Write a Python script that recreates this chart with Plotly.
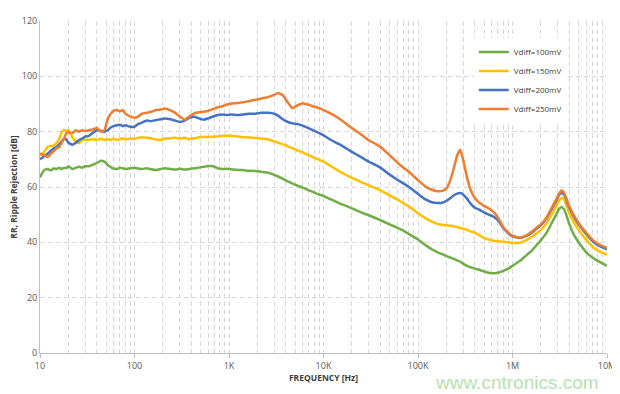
import plotly.graph_objects as go

freq = [
    10, 11, 12, 13, 14, 15, 16, 17, 18, 19,
    20, 22, 24, 26, 28, 30, 33, 36, 40, 44,
    48, 52, 56, 60, 65, 70, 75, 80, 90, 100,
    110, 120, 135, 150, 170, 190, 210, 240, 270, 300,
    340, 380, 430, 480, 540, 600, 680, 760, 850, 950,
    1070, 1200, 1400, 1600, 1900, 2200, 2600, 3000, 3300, 3700,
    4200, 4700, 5300, 6000, 7000, 8000, 9000, 10000, 12000, 15000,
    20000, 25000, 30000, 40000, 50000, 60000, 70000, 80000, 100000, 120000,
    140000, 160000, 180000, 200000, 220000, 240000, 260000, 280000, 300000, 330000,
    360000, 400000, 450000, 500000, 560000, 630000, 700000, 800000, 900000, 1000000,
    1200000, 1400000, 1600000, 1800000, 2000000, 2300000, 2600000, 2900000, 3100000, 3300000,
    3500000, 3700000, 4000000, 4500000, 5000000, 6000000, 7000000, 8000000, 10000000,
]

vdiff_100mV = [
    63.5, 66.0, 66.5, 66.0, 66.7, 66.5, 67.0, 66.5, 67.0, 66.8,
    67.5, 66.5, 67.0, 67.3, 67.0, 67.5, 67.5, 68.0, 68.7, 69.5,
    69.2, 68.0, 67.2, 66.7, 66.5, 67.0, 66.8, 66.5, 66.8, 67.0,
    66.7, 66.5, 66.8, 66.4, 66.1, 66.5, 66.8, 66.5, 66.3, 66.6,
    66.3, 66.5, 66.8, 67.0, 67.3, 67.6, 67.5, 66.8, 66.5, 66.6,
    66.4, 66.2, 66.1, 65.9, 65.8, 65.5, 65.2, 64.4, 63.8, 63.0,
    62.0, 61.2, 60.5, 59.8, 58.8, 58.0, 57.3, 56.8, 55.5, 54.0,
    52.3, 50.8, 49.8, 48.0, 46.5, 45.3, 44.2, 43.0, 41.0, 39.0,
    37.5, 36.5, 35.7, 35.0, 34.5, 34.0, 33.5, 33.0, 32.3, 31.5,
    31.0, 30.5, 30.0, 29.5, 29.0, 28.8, 29.0, 29.7, 30.5, 31.5,
    33.3, 35.3, 37.0, 39.0, 40.8, 43.5, 47.0, 50.0, 52.0, 52.8,
    52.0, 50.0, 46.5, 42.5, 40.0, 36.5, 34.5, 33.3, 31.5,
]

vdiff_150mV = [
    71.5, 72.5, 74.5, 74.8, 75.0, 76.0, 77.5, 80.0, 80.6, 80.3,
    80.6, 78.0, 76.5, 75.9, 77.0, 77.2, 77.0, 77.3, 77.0, 77.5,
    77.0, 77.3, 77.0, 77.5, 77.0, 77.2, 77.6, 77.2, 77.5, 77.4,
    77.8, 78.0, 77.8, 77.6, 77.2, 77.0, 77.5, 77.6, 77.8, 77.5,
    77.8, 77.3, 77.6, 78.0, 78.2, 78.0, 78.2, 78.3, 78.5, 78.5,
    78.5, 78.3, 78.0, 78.0, 77.7, 77.5, 77.2, 76.5, 76.0, 75.5,
    74.7, 74.0, 73.2, 72.5, 71.5, 70.5, 69.8, 69.2, 67.5, 65.5,
    63.3, 61.8, 60.6, 58.8, 57.0, 55.5, 54.2, 53.0, 50.5, 48.7,
    47.5, 46.7, 46.3, 46.2, 46.0, 45.8, 45.5, 45.2, 45.0, 44.5,
    44.0, 43.5, 42.5, 41.5, 41.0, 40.6, 40.4, 40.2, 40.0, 39.8,
    39.8, 40.8, 42.0, 43.3, 44.5, 47.0, 50.0, 53.0, 55.0, 56.0,
    55.5, 53.5, 50.5, 47.0, 44.5, 41.0, 38.5, 37.0, 35.5,
]

vdiff_200mV = [
    70.0, 71.0, 72.0, 73.0, 74.0, 74.5, 75.5, 76.5, 77.5, 77.2,
    76.0, 75.3, 76.0, 77.0, 77.5, 78.2, 78.5, 79.5, 80.6, 80.3,
    80.0, 80.5, 81.5, 82.0, 82.3, 82.5, 82.0, 82.3, 81.8, 81.8,
    82.8, 83.3, 84.0, 83.8, 84.2, 84.5, 84.8, 84.5, 84.0, 83.5,
    84.0, 85.0, 85.4, 84.8, 84.3, 84.8, 85.5, 86.0, 86.2, 86.0,
    86.2, 86.0, 86.2, 86.5, 86.5, 86.8, 86.8, 86.5, 85.8, 84.5,
    83.5, 83.0, 82.8, 82.2, 81.2, 80.3, 79.5, 78.7, 77.0, 75.3,
    72.7, 70.8, 69.2, 67.0, 64.5, 62.7, 61.3, 60.0, 57.5, 55.5,
    54.5, 54.2, 54.3, 55.0, 56.0, 57.0, 57.6, 57.8, 57.3, 55.8,
    54.0, 52.5, 51.7, 50.8, 50.0, 49.3, 48.0, 45.2, 43.3, 42.2,
    41.6, 42.3, 43.5, 45.0, 46.2, 48.8, 52.0, 55.0, 57.0, 57.8,
    57.3, 55.5, 52.5, 49.0, 46.5, 43.0, 40.5, 39.0, 37.5,
]

vdiff_250mV = [
    72.0, 71.5, 70.8, 72.0, 73.0, 74.0, 74.5, 76.0, 77.5, 79.5,
    79.8, 79.5, 80.5, 80.0, 80.5, 80.2, 80.5, 80.8, 81.3, 80.0,
    80.5, 84.5, 86.5, 87.5, 87.8, 87.3, 87.8, 86.5, 85.5, 85.0,
    85.5, 86.5, 86.8, 87.2, 87.8, 88.0, 88.4, 87.7, 86.8, 85.5,
    84.3, 85.5, 86.6, 87.0, 87.2, 87.5, 88.2, 88.8, 89.2, 89.8,
    90.2, 90.3, 90.6, 91.0, 91.5, 92.0, 92.5, 93.3, 94.0, 93.2,
    90.5, 88.5, 89.5, 90.3, 89.7, 89.0, 88.5, 87.8, 86.5, 84.5,
    81.3, 79.0, 77.0, 74.5, 71.5, 69.0, 67.0, 65.5, 62.5, 60.2,
    59.0, 58.5, 58.6, 59.5, 62.5, 67.0, 71.5, 73.5, 70.0, 63.5,
    59.0, 56.0, 54.2, 53.2, 52.3, 51.0, 49.0, 45.5, 43.5, 42.3,
    41.7, 42.5, 43.8, 45.3, 46.5, 49.0, 52.5, 55.5, 57.5, 58.7,
    58.0, 56.0, 53.0, 49.5, 47.0, 43.5, 41.0, 39.5, 38.0,
]

series_names = ["Vdiff=100mV", "Vdiff=150mV", "Vdiff=200mV", "Vdiff=250mV"]
series_colors = ["#70ad47", "#ffc000", "#4472c4", "#ed7d31"]
series_values = [vdiff_100mV, vdiff_150mV, vdiff_200mV, vdiff_250mV]

x_tickvals = [10, 100, 1000, 10000, 100000, 1000000, 10000000]
x_ticktext = ["10", "100", "1K", "10K", "100K", "1M", "10M"]

fig = go.Figure()
for name, color, vals in zip(series_names, series_colors, series_values):
    fig.add_trace(go.Scatter(
        x=freq, y=vals, mode="lines", name=name,
        line=dict(color=color, width=2.5, shape="spline", smoothing=0.4),
    ))

grid_col = "#d9d9d9"
grid_dash = "5px,3px"
fig.update_layout(
    width=612, height=386,
    margin=dict(l=32, r=13, t=13, b=41),
    paper_bgcolor="white", plot_bgcolor="white",
    font=dict(family="Open Sans, Liberation Sans, sans-serif", size=9, color="#595959"),
    showlegend=True,
    legend=dict(
        x=0.765, y=0.95, xanchor="left", yanchor="top",
        bgcolor="white", borderwidth=0,
        font=dict(size=8, color="#404040"),
        tracegroupgap=0, itemwidth=30,
    ),
    xaxis=dict(
        type="log", range=[1, 7], automargin=False,
        tickvals=x_tickvals, ticktext=x_ticktext,
        showgrid=True, gridcolor=grid_col, griddash=grid_dash, gridwidth=1,
        minor=dict(showgrid=True, gridcolor=grid_col, griddash=grid_dash, gridwidth=1, dtick="D1"),
        showline=True, linecolor="#bfbfbf", linewidth=1,
        ticks="outside", ticklen=4, tickcolor="#bfbfbf",
        tickfont=dict(size=9, color="#595959"),
        title=dict(text="<b>FREQUENCY [Hz]</b>", font=dict(size=8.5, color="#404040"), standoff=4),
        zeroline=False,
    ),
    yaxis=dict(
        range=[0, 120], dtick=20, automargin=False,
        showgrid=True, gridcolor=grid_col, griddash=grid_dash, gridwidth=1,
        showline=True, linecolor="#bfbfbf", linewidth=1,
        ticks="", tickfont=dict(size=9, color="#595959"),
        title=dict(text="<b>RR, Ripple Rejection [dB]</b>", font=dict(size=8.5, color="#404040"), standoff=6),
        zeroline=False,
    ),
    annotations=[dict(
        text="www.cntronics.com", xref="paper", yref="paper",
        x=0.99, y=-0.088, xanchor="right", yanchor="middle", showarrow=False,
        font=dict(size=19, color="#b8e2b0", family="Liberation Sans, Arial, sans-serif"),
    )],
)

fig.write_html("out.html")
